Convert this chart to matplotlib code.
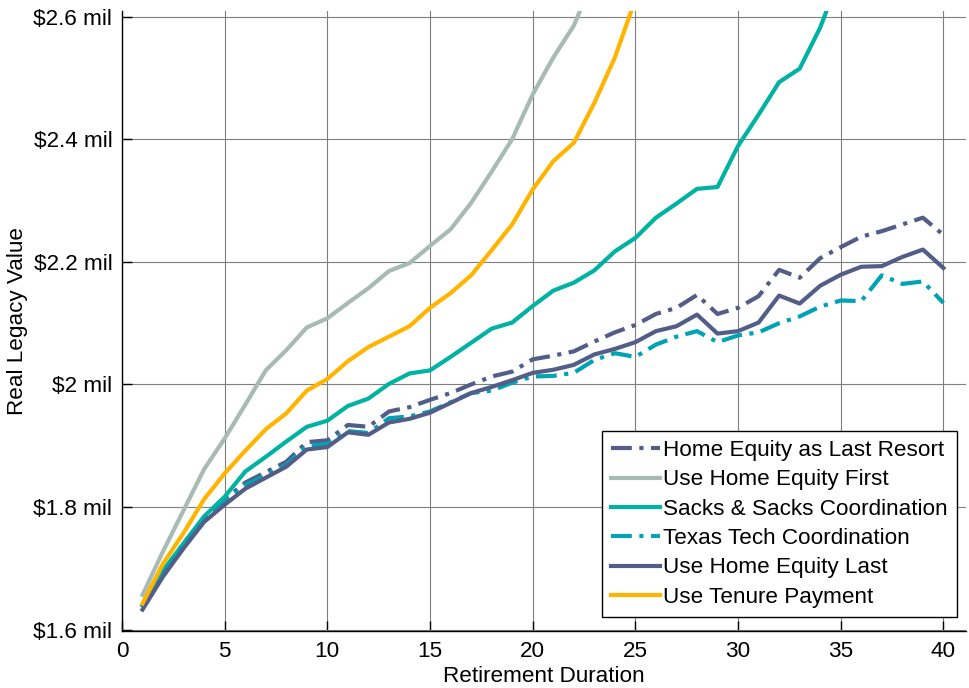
import matplotlib
matplotlib.use("Agg")
import matplotlib.pyplot as plt

plt.rcParams['font.family'] = ['Liberation Sans', 'DejaVu Sans']

# retirement duration (years)
years = list(range(1, 41))

last_resort = [1.637, 1.693, 1.741, 1.782, 1.812, 1.840, 1.857, 1.874, 1.906, 1.909,
               1.934, 1.931, 1.956, 1.963, 1.975, 1.986, 2.000, 2.013, 2.021, 2.041,
               2.047, 2.054, 2.070, 2.085, 2.097, 2.115, 2.125, 2.146, 2.115, 2.125,
               2.144, 2.187, 2.174, 2.206, 2.224, 2.241, 2.250, 2.261, 2.272, 2.244]
equity_first = [1.657, 1.728, 1.795, 1.862, 1.912, 1.967, 2.023, 2.056, 2.093, 2.108,
                2.133, 2.157, 2.185, 2.198, 2.226, 2.253, 2.296, 2.347, 2.400, 2.473,
                2.533, 2.585, 2.665]
sacks = [1.640, 1.697, 1.741, 1.785, 1.817, 1.858, 1.882, 1.907, 1.931, 1.941,
         1.965, 1.977, 2.001, 2.018, 2.023, 2.045, 2.068, 2.091, 2.101, 2.128,
         2.153, 2.166, 2.186, 2.217, 2.239, 2.272, 2.295, 2.319, 2.322, 2.389,
         2.440, 2.493, 2.515, 2.582, 2.670]
texas_tech = [1.636, 1.691, 1.738, 1.780, 1.808, 1.836, 1.852, 1.869, 1.900, 1.903,
              1.924, 1.921, 1.945, 1.948, 1.956, 1.971, 1.986, 1.990, 2.003, 2.013,
              2.014, 2.019, 2.040, 2.051, 2.045, 2.065, 2.078, 2.087, 2.069, 2.080,
              2.085, 2.100, 2.111, 2.127, 2.137, 2.136, 2.178, 2.164, 2.168, 2.133]
equity_last = [1.633, 1.687, 1.733, 1.776, 1.804, 1.830, 1.848, 1.866, 1.894, 1.898,
               1.922, 1.918, 1.938, 1.944, 1.954, 1.970, 1.986, 1.996, 2.007, 2.019,
               2.024, 2.032, 2.049, 2.058, 2.069, 2.087, 2.095, 2.114, 2.083, 2.087,
               2.101, 2.145, 2.132, 2.161, 2.179, 2.192, 2.193, 2.208, 2.220, 2.190]
tenure = [1.643, 1.708, 1.758, 1.813, 1.855, 1.892, 1.927, 1.953, 1.990, 2.009,
          2.038, 2.061, 2.078, 2.095, 2.125, 2.149, 2.178, 2.219, 2.261, 2.318,
          2.364, 2.394, 2.459, 2.533, 2.628]

yticks = [1.6, 1.8, 2.0, 2.2, 2.4, 2.6]
ytick_labels = [r"\$1.6 mil", r"\$1.8 mil", r"\$2 mil", r"\$2.2 mil", r"\$2.4 mil", r"\$2.6 mil"]
xticks = [0, 5, 10, 15, 20, 25, 30, 35, 40]

navy = '#525d88'
teal = '#00b2a2'
teal_dark = '#00a3b4'
grey = '#a7bab4'
orange = '#ffb400'
dd = (5, 1.8, 1, 1.8)
lw = 3.0

fig = plt.figure(figsize=(9.69, 6.88), dpi=100)
ax = fig.add_axes([0.1259, 0.0828, 0.8710, 0.9012])

ax.plot(years, last_resort, color=navy, lw=lw, dashes=dd, label="Home Equity as Last Resort")
ax.plot(years[:len(equity_first)], equity_first, color=grey, lw=lw, label="Use Home Equity First")
ax.plot(years[:len(sacks)], sacks, color=teal, lw=lw, label="Sacks & Sacks Coordination")
ax.plot(years, texas_tech, color=teal_dark, lw=lw, dashes=dd, label="Texas Tech Coordination")
ax.plot(years, equity_last, color=navy, lw=lw, label="Use Home Equity Last")
ax.plot(years[:len(tenure)], tenure, color=orange, lw=lw, label="Use Tenure Payment")

ax.set_xlim(0, 41.1)
ax.set_ylim(1.598, 2.609)
ax.set_xticks(xticks)
ax.set_yticks(yticks)
ax.set_yticklabels(ytick_labels)
ax.grid(True, color='#7f7f7f', linewidth=0.8)
ax.set_axisbelow(True)

for s in ['top', 'right']:
    ax.spines[s].set_visible(False)
for s in ['left', 'bottom']:
    ax.spines[s].set_linewidth(1.0)
ax.tick_params(direction='in', length=7, width=1, labelsize=16.2, pad=7)

ax.set_xlabel("Retirement Duration", fontsize=16.2, labelpad=3)
ax.set_ylabel("Real Legacy Value", fontsize=16.2, labelpad=4)

leg = ax.legend(loc='lower right', bbox_to_anchor=(0.9873, 0.1036),
                bbox_transform=fig.transFigure, fontsize=16.2, frameon=True,
                fancybox=False, edgecolor='black', framealpha=1,
                handlelength=2.15, handletextpad=0.15, labelspacing=0.37,
                borderpad=0.4, borderaxespad=0)
leg.get_frame().set_linewidth(1.0)

fig.savefig("out.png", dpi=100)
